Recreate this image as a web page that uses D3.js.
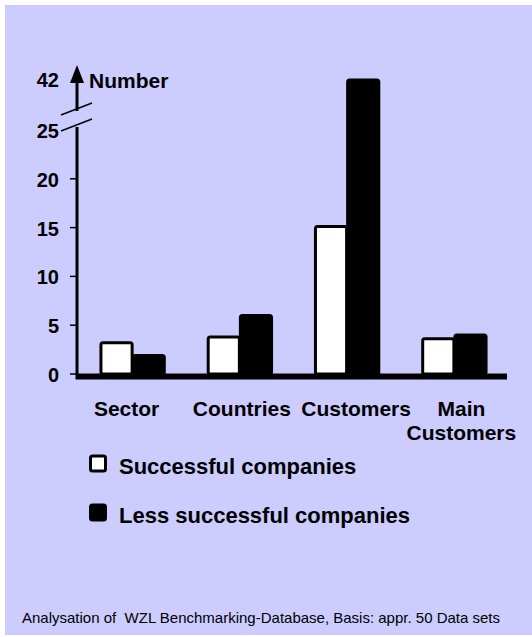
<!DOCTYPE html>
<html>
<head>
<meta charset="utf-8">
<script src="https://cdn.jsdelivr.net/npm/d3@7"></script>
<style>
  body { margin: 0; background: #fff; }
  svg { display: block; }
  text { font-family: "Liberation Sans", Arial, sans-serif; fill: #000; }
</style>
</head>
<body>
<svg id="renderer" width="532" height="637"></svg>
<script>
const categories = ['Sector', 'Countries', 'Customers', 'Main Customers'];
const seriesNames = ['Successful companies', 'Less successful companies'];
const successful = [3.2, 3.8, 15.1, 3.6];
const lessSuccessful = [1.9, 6.0, 42, 4.0];
const yTicks = [0, 5, 10, 15, 20, 25];
const breakTop = 42;

const svg = d3.select('#renderer');

svg.append('rect')
    .attr('x', 5).attr('y', 5)
    .attr('width', 527).attr('height', 630)
    .attr('fill', '#ccccff');

// broken axis: 0..25 linear, then 25..42 squeezed
const y = d3.scaleLinear()
    .domain([0, 25, breakTop])
    .range([374, 130, 80]);

const x0 = d3.scaleBand()
    .domain(categories)
    .range([78, 507])
    .paddingInner(0.4)
    .paddingOuter(0.2);

const x1 = d3.scaleBand()
    .domain(seriesNames)
    .range([0, x0.bandwidth()]);

const colors = d3.scaleOrdinal().domain(seriesNames).range(['#ffffff', '#000000']);

const rows = categories.map(function (c, i) {
    return { cat: c, vals: [successful[i], lessSuccessful[i]] };
});

// bars
const groups = svg.append('g').selectAll('g')
    .data(rows).join('g')
    .attr('transform', function (d) { return 'translate(' + x0(d.cat) + ',0)'; });

groups.selectAll('rect')
    .data(function (d) {
        return d.vals.map(function (v, k) { return { key: seriesNames[k], v: v }; });
    })
    .join('rect')
    .attr('x', function (d) { return x1(d.key) + 1.5; })
    .attr('y', function (d) { return y(d.v); })
    .attr('width', x1.bandwidth() - 1)
    .attr('height', function (d) { return y(0) - y(d.v); })
    .attr('rx', 2)
    .attr('fill', function (d) { return colors(d.key); })
    .attr('stroke', '#000')
    .attr('stroke-width', 3);

// y axis line (with gap at break)
const axisX = 77;
svg.append('line')
    .attr('x1', axisX).attr('x2', axisX)
    .attr('y1', y(0)).attr('y2', 127)
    .attr('stroke', '#000').attr('stroke-width', 3);
svg.append('line')
    .attr('x1', axisX).attr('x2', axisX)
    .attr('y1', 111).attr('y2', 80)
    .attr('stroke', '#000').attr('stroke-width', 3);
// arrow head
svg.append('path')
    .attr('d', 'M' + (axisX - 7) + ',83 L' + axisX + ',65 L' + (axisX + 7) + ',83 Z')
    .attr('fill', '#000');

// break marks
svg.append('line')
    .attr('x1', 61).attr('y1', 115).attr('x2', 92).attr('y2', 103)
    .attr('stroke', '#000').attr('stroke-width', 1.5);
svg.append('line')
    .attr('x1', 61).attr('y1', 131).attr('x2', 92).attr('y2', 119)
    .attr('stroke', '#000').attr('stroke-width', 1.5);

// ticks + labels
svg.append('g').selectAll('line')
    .data(yTicks.slice(0, 5)).join('line')
    .attr('x1', 70).attr('x2', axisX)
    .attr('y1', function (d) { return y(d); })
    .attr('y2', function (d) { return y(d); })
    .attr('stroke', '#000').attr('stroke-width', 1.5);

svg.append('g').selectAll('text')
    .data(yTicks).join('text')
    .attr('x', 59)
    .attr('y', function (d) { return y(d) + 8; })
    .attr('text-anchor', 'end')
    .attr('font-size', 20)
    .attr('font-weight', 'bold')
    .text(function (d) { return d; });

svg.append('text')
    .attr('x', 59).attr('y', y(breakTop) + 7)
    .attr('text-anchor', 'end')
    .attr('font-size', 20).attr('font-weight', 'bold')
    .text(breakTop);

svg.append('text')
    .attr('x', 89).attr('y', 88)
    .attr('font-size', 21).attr('font-weight', 'bold')
    .text('Number');

// x axis thick baseline
svg.append('line')
    .attr('x1', axisX - 1.5).attr('x2', 507)
    .attr('y1', y(0) + 2.5).attr('y2', y(0) + 2.5)
    .attr('stroke', '#000').attr('stroke-width', 6);

// category labels (slightly off the group centres, as in the original)
const labelShift = [-5, 3, 10, 8];
const catLabels = svg.append('g').selectAll('text')
    .data(categories).join('text')
    .attr('text-anchor', 'middle')
    .attr('font-size', 21)
    .attr('font-weight', 'bold')
    .attr('y', 416);

catLabels.each(function (d, i) {
    const t = d3.select(this);
    const cx = x0(d) + x0.bandwidth() / 2 + labelShift[i];
    if (d === 'Main Customers') {
        t.append('tspan').attr('x', cx).text('Main');
        t.append('tspan').attr('x', cx).attr('dy', 24).text('Customers');
    } else {
        t.append('tspan').attr('x', cx).text(d);
    }
});

// legend
const legend = svg.append('g').selectAll('g')
    .data(seriesNames).join('g')
    .attr('transform', function (d, i) { return 'translate(89,' + (456 + i * 49) + ')'; });

legend.append('rect')
    .attr('x', 1.5).attr('y', 0)
    .attr('width', 15).attr('height', 15)
    .attr('rx', 2)
    .attr('fill', function (d) { return colors(d); })
    .attr('stroke', '#000').attr('stroke-width', 3);

legend.append('text')
    .attr('x', 30).attr('y', 18)
    .attr('font-size', 22)
    .attr('font-weight', 'bold')
    .text(function (d) { return d; });

// footnote
svg.append('text')
    .attr('x', 22).attr('y', 623)
    .attr('font-size', 15)
    .style('white-space', 'pre')
    .text('Analysation of  WZL Benchmarking-Database, Basis: appr. 50 Data sets');
</script>
</body>
</html>
